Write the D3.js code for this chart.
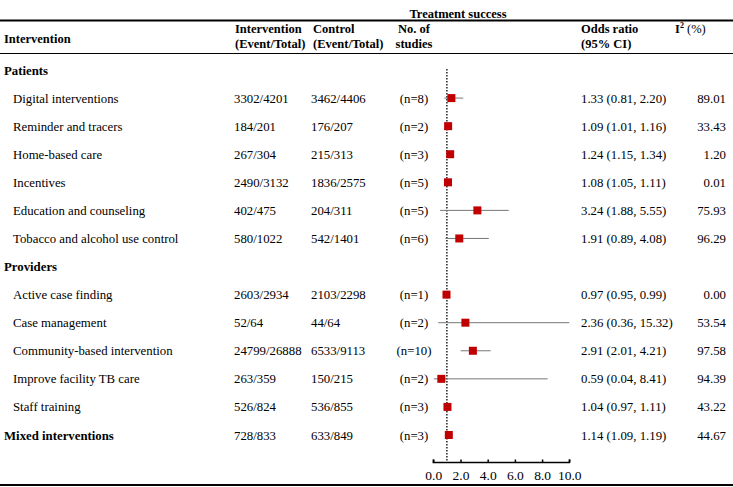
<!DOCTYPE html>
<html>
<head>
<meta charset="utf-8">
<script src="https://cdn.jsdelivr.net/npm/d3@7"></script>
<style>
  body { margin: 0; background: #fff; }
  svg { display: block; font-family: "Liberation Serif", "Times New Roman", serif; }
</style>
</head>
<body>
<div id="chart"></div>
<script>
// rows, in display order; group headers have no values
const labels = ["Patients", "Digital interventions", "Reminder and tracers", "Home-based care", "Incentives",
  "Education and counseling", "Tobacco and alcohol use control", "Providers", "Active case finding",
  "Case management", "Community-based intervention", "Improve facility TB care", "Staff training",
  "Mixed interventions"];
const isGroup = [true, false, false, false, false, false, false, true, false, false, false, false, false, true];
const interventionCol = ["", "3302/4201", "184/201", "267/304", "2490/3132", "402/475", "580/1022", "",
  "2603/2934", "52/64", "24799/26888", "263/359", "526/824", "728/833"];
const controlCol = ["", "3462/4406", "176/207", "215/313", "1836/2575", "204/311", "542/1401", "",
  "2103/2298", "44/64", "6533/9113", "150/215", "536/855", "633/849"];
const nStudies = [null, 8, 2, 3, 5, 5, 6, null, 1, 2, 10, 2, 3, 3];
const oddsRatio = [null, 1.33, 1.09, 1.24, 1.08, 3.24, 1.91, null, 0.97, 2.36, 2.91, 0.59, 1.04, 1.14];
// CI ends as drawn in the plot
const ciLow = [null, 0.81, 1.01, 1.15, 1.05, 0.5, 0.89, null, 0.95, 0.36, 2.01, 0.04, 0.97, 1.09];
const ciHigh = [null, 2.20, 1.16, 1.34, 1.11, 5.55, 4.08, null, 0.99, 15.32, 4.21, 8.41, 1.11, 1.19];
const orText = ["", "1.33 (0.81, 2.20)", "1.09 (1.01, 1.16)", "1.24 (1.15, 1.34)", "1.08 (1.05, 1.11)",
  "3.24 (1.88, 5.55)", "1.91 (0.89, 4.08)", "", "0.97 (0.95, 0.99)", "2.36 (0.36, 15.32)",
  "2.91 (2.01, 4.21)", "0.59 (0.04, 8.41)", "1.04 (0.97, 1.11)", "1.14 (1.09, 1.19)"];
const iSquared = ["", "89.01", "33.43", "1.20", "0.01", "75.93", "96.29", "", "0.00", "53.54",
  "97.58", "94.39", "43.22", "44.67"];
const axisTicks = [0, 2, 4, 6, 8, 10];

const width = 733, height = 487;

const svg = d3.select("#chart")
  .append("svg")
  .attr("width", width)
  .attr("height", height);

const y = d3.scalePoint()
  .domain(d3.range(labels.length))
  .range([70, 435]);

const x = d3.scaleLinear()
  .domain([0, 10])
  .range([433.3, 569.3]);

// rules
svg.append("line").attr("x1", 0).attr("x2", width).attr("y1", 20.5).attr("y2", 20.5)
  .attr("stroke", "#000").attr("stroke-width", 2);
svg.append("line").attr("x1", 0).attr("x2", width).attr("y1", 53.5).attr("y2", 53.5)
  .attr("stroke", "#000").attr("stroke-width", 1);
svg.append("line").attr("x1", 0).attr("x2", width).attr("y1", 485).attr("y2", 485)
  .attr("stroke", "#000").attr("stroke-width", 2);

// header
const head = svg.append("g")
  .attr("font-weight", "bold")
  .attr("font-size", "12.5px")
  .attr("fill", "#000");

head.append("text").attr("x", 458).attr("y", 18).attr("text-anchor", "middle").text("Treatment success");
head.append("text").attr("x", 4).attr("y", 43).text("Intervention");

const headCols = [
  { x: 235, anchor: "start", lines: ["Intervention", "(Event/Total)"] },
  { x: 313, anchor: "start", lines: ["Control", "(Event/Total)"] },
  { x: 414, anchor: "middle", lines: ["No. of", "studies"] },
  { x: 581, anchor: "start", lines: ["Odds ratio", "(95% CI)"] }
];
headCols.forEach(c => {
  c.lines.forEach((t, i) => {
    head.append("text")
      .attr("x", c.x)
      .attr("y", 33 + i * 15)
      .attr("text-anchor", c.anchor)
      .text(t);
  });
});

const i2 = head.append("text").attr("x", 675).attr("y", 33);
i2.append("tspan").text("I");
i2.append("tspan").attr("font-size", "8px").attr("dy", -5).text("2");
i2.append("tspan").attr("dy", 5).attr("font-weight", "normal").text(" (%)");

// table rows
const rows = svg.selectAll(".row")
  .data(labels)
  .enter()
  .append("g")
  .attr("class", "row")
  .attr("transform", (d, i) => `translate(0, ${y(i) + 4.5})`)
  .attr("font-size", "12.8px")
  .attr("fill", "#000");

rows.append("text")
  .attr("x", (d, i) => isGroup[i] ? 4 : 13)
  .attr("font-weight", (d, i) => isGroup[i] ? "bold" : "normal")
  .text(d => d);

rows.append("text").attr("x", 234).text((d, i) => interventionCol[i]);
rows.append("text").attr("x", 311).text((d, i) => controlCol[i]);
rows.append("text").attr("x", 414).attr("text-anchor", "middle")
  .text((d, i) => nStudies[i] == null ? "" : `(n=${nStudies[i]})`);
rows.append("text").attr("x", 581).text((d, i) => orText[i]);
rows.append("text").attr("x", 726).attr("text-anchor", "end").text((d, i) => iSquared[i]);

// reference line at OR = 1
svg.append("line")
  .attr("x1", x(1)).attr("x2", x(1))
  .attr("y1", 69).attr("y2", 462)
  .attr("stroke", "#000")
  .attr("stroke-width", 1.3)
  .attr("stroke-dasharray", "1.5,1.5");

// forest marks
const points = d3.range(labels.length).filter(i => oddsRatio[i] != null);

svg.selectAll(".ci")
  .data(points)
  .enter()
  .append("line")
  .attr("class", "ci")
  .attr("x1", i => x(Math.max(0, ciLow[i])))
  .attr("x2", i => x(Math.min(10, ciHigh[i])))
  .attr("y1", i => y(i))
  .attr("y2", i => y(i))
  .attr("stroke", "#777")
  .attr("stroke-width", 1);

const box = 8;
svg.selectAll(".box")
  .data(points)
  .enter()
  .append("rect")
  .attr("class", "box")
  .attr("x", i => x(oddsRatio[i]) - box / 2)
  .attr("y", i => y(i) - box / 2)
  .attr("width", box)
  .attr("height", box)
  .attr("fill", "#c00000");

// axis
const axis = d3.axisBottom(x)
  .tickValues(axisTicks)
  .tickSize(-3)
  .tickPadding(8)
  .tickFormat(d3.format(".1f"));

const gAxis = svg.append("g")
  .attr("transform", "translate(0, 462.5)")
  .call(axis);

gAxis.select(".domain")
  .attr("d", `M${x(0)},-3V0H${x(10)}V-3`)
  .attr("stroke", "#000")
  .attr("stroke-width", 1.5);
gAxis.selectAll(".tick line").attr("stroke", "#000").attr("stroke-width", 1.5);
gAxis.selectAll(".tick text")
  .attr("font-family", "Liberation Serif, Times New Roman, serif")
  .attr("font-size", "13.5px")
  .attr("fill", "#000");
</script>
</body>
</html>
